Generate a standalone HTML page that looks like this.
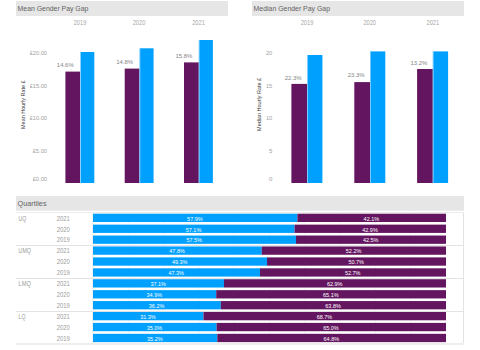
<!DOCTYPE html>
<html><head><meta charset="utf-8"><style>
html,body{margin:0;padding:0;background:#fff;width:480px;height:350px;overflow:hidden}
svg{display:block;font-family:"Liberation Sans", sans-serif}
</style></head><body>
<svg width="480" height="350" viewBox="0 0 480 350">
<rect x="16.00" y="1.00" width="212.00" height="15.00" fill="#E6E6E6"/>
<rect x="252.00" y="1.00" width="212.00" height="15.00" fill="#E6E6E6"/>
<rect x="16.00" y="196.00" width="448.00" height="14.70" fill="#E6E6E6"/>
<text x="17.60" y="11.00" font-size="7.5" fill="#636363" text-anchor="start" textLength="70.80" lengthAdjust="spacingAndGlyphs">Mean Gender Pay Gap</text>
<text x="253.60" y="11.00" font-size="7.5" fill="#636363" text-anchor="start" textLength="76.40" lengthAdjust="spacingAndGlyphs">Median Gender Pay Gap</text>
<text x="17.60" y="206.30" font-size="7.5" fill="#636363" text-anchor="start" textLength="28.90" lengthAdjust="spacingAndGlyphs">Quartiles</text>
<text x="80.00" y="24.80" font-size="6.7" fill="#A6A6A6" text-anchor="middle" textLength="12.60" lengthAdjust="spacingAndGlyphs">2019</text>
<text x="139.00" y="24.80" font-size="6.7" fill="#A6A6A6" text-anchor="middle" textLength="12.60" lengthAdjust="spacingAndGlyphs">2020</text>
<text x="198.50" y="24.80" font-size="6.7" fill="#A6A6A6" text-anchor="middle" textLength="12.60" lengthAdjust="spacingAndGlyphs">2021</text>
<text x="47.00" y="54.90" font-size="5.6" fill="#A2A2A2" text-anchor="end" textLength="17.30" lengthAdjust="spacingAndGlyphs">£20.00</text>
<text x="47.00" y="87.90" font-size="5.6" fill="#A2A2A2" text-anchor="end" textLength="17.30" lengthAdjust="spacingAndGlyphs">£15.00</text>
<text x="47.00" y="120.00" font-size="5.6" fill="#A2A2A2" text-anchor="end" textLength="17.30" lengthAdjust="spacingAndGlyphs">£10.00</text>
<text x="47.00" y="152.70" font-size="5.6" fill="#A2A2A2" text-anchor="end" textLength="14.30" lengthAdjust="spacingAndGlyphs">£5.00</text>
<text x="47.00" y="180.60" font-size="5.6" fill="#A2A2A2" text-anchor="end" textLength="14.30" lengthAdjust="spacingAndGlyphs">£0.00</text>
<text x="24.90" y="104.70" font-size="5.5" fill="#3A3A3A" text-anchor="middle" textLength="48.40" lengthAdjust="spacingAndGlyphs" transform="rotate(-90 24.9 104.7)">Mean Hourly Rate £</text>
<rect x="65.40" y="71.60" width="14.80" height="111.40" fill="#641560"/>
<rect x="80.20" y="52.00" width="14.10" height="131.00" fill="#00A0FF"/>
<rect x="80.20" y="52.00" width="0.80" height="131.00" fill="#ffffff" fill-opacity="0.55"/>
<text x="65.30" y="67.00" font-size="6.25" fill="#858585" text-anchor="middle" textLength="16.90" lengthAdjust="spacingAndGlyphs">14.6%</text>
<rect x="124.70" y="68.60" width="14.80" height="114.40" fill="#641560"/>
<rect x="139.50" y="48.30" width="14.10" height="134.70" fill="#00A0FF"/>
<rect x="139.50" y="48.30" width="0.80" height="134.70" fill="#ffffff" fill-opacity="0.55"/>
<text x="124.60" y="64.30" font-size="6.25" fill="#858585" text-anchor="middle" textLength="16.90" lengthAdjust="spacingAndGlyphs">14.8%</text>
<rect x="184.00" y="62.40" width="14.80" height="120.60" fill="#641560"/>
<rect x="198.80" y="40.00" width="14.10" height="143.00" fill="#00A0FF"/>
<rect x="198.80" y="40.00" width="0.80" height="143.00" fill="#ffffff" fill-opacity="0.55"/>
<text x="183.90" y="58.30" font-size="6.25" fill="#858585" text-anchor="middle" textLength="16.90" lengthAdjust="spacingAndGlyphs">15.8%</text>
<text x="307.00" y="24.80" font-size="6.7" fill="#A6A6A6" text-anchor="middle" textLength="12.60" lengthAdjust="spacingAndGlyphs">2019</text>
<text x="369.70" y="24.80" font-size="6.7" fill="#A6A6A6" text-anchor="middle" textLength="12.60" lengthAdjust="spacingAndGlyphs">2020</text>
<text x="432.80" y="24.80" font-size="6.7" fill="#A6A6A6" text-anchor="middle" textLength="12.60" lengthAdjust="spacingAndGlyphs">2021</text>
<text x="272.30" y="55.20" font-size="5.6" fill="#A2A2A2" text-anchor="end" textLength="6.40" lengthAdjust="spacingAndGlyphs">20</text>
<text x="272.30" y="87.70" font-size="5.6" fill="#A2A2A2" text-anchor="end" textLength="6.40" lengthAdjust="spacingAndGlyphs">15</text>
<text x="272.30" y="120.20" font-size="5.6" fill="#A2A2A2" text-anchor="end" textLength="6.40" lengthAdjust="spacingAndGlyphs">10</text>
<text x="272.30" y="152.60" font-size="5.6" fill="#A2A2A2" text-anchor="end" textLength="3.40" lengthAdjust="spacingAndGlyphs">5</text>
<text x="272.30" y="180.90" font-size="5.6" fill="#A2A2A2" text-anchor="end" textLength="3.40" lengthAdjust="spacingAndGlyphs">0</text>
<text x="261.05" y="104.40" font-size="5.5" fill="#3A3A3A" text-anchor="middle" textLength="53.00" lengthAdjust="spacingAndGlyphs" transform="rotate(-90 261.05 104.4)">Median Hourly Rate £</text>
<rect x="291.40" y="83.90" width="15.70" height="99.10" fill="#641560"/>
<rect x="307.10" y="55.00" width="15.30" height="128.00" fill="#00A0FF"/>
<rect x="307.10" y="55.00" width="0.80" height="128.00" fill="#ffffff" fill-opacity="0.55"/>
<text x="293.20" y="79.70" font-size="6.25" fill="#858585" text-anchor="middle" textLength="16.90" lengthAdjust="spacingAndGlyphs">22.3%</text>
<rect x="354.30" y="82.10" width="15.70" height="100.90" fill="#641560"/>
<rect x="370.00" y="51.40" width="15.30" height="131.60" fill="#00A0FF"/>
<rect x="370.00" y="51.40" width="0.80" height="131.60" fill="#ffffff" fill-opacity="0.55"/>
<text x="356.10" y="76.90" font-size="6.25" fill="#858585" text-anchor="middle" textLength="16.90" lengthAdjust="spacingAndGlyphs">23.3%</text>
<rect x="417.10" y="69.00" width="15.70" height="114.00" fill="#641560"/>
<rect x="432.80" y="51.40" width="15.30" height="131.60" fill="#00A0FF"/>
<rect x="432.80" y="51.40" width="0.80" height="131.60" fill="#ffffff" fill-opacity="0.55"/>
<text x="418.90" y="65.00" font-size="6.25" fill="#858585" text-anchor="middle" textLength="16.90" lengthAdjust="spacingAndGlyphs">13.2%</text>
<line x1="128.3" y1="212.5" x2="128.3" y2="343.5" stroke="#F2F2F2" stroke-width="0.8"/>
<line x1="163.6" y1="212.5" x2="163.6" y2="343.5" stroke="#F2F2F2" stroke-width="0.8"/>
<line x1="198.9" y1="212.5" x2="198.9" y2="343.5" stroke="#F2F2F2" stroke-width="0.8"/>
<line x1="234.2" y1="212.5" x2="234.2" y2="343.5" stroke="#F2F2F2" stroke-width="0.8"/>
<line x1="269.5" y1="212.5" x2="269.5" y2="343.5" stroke="#F2F2F2" stroke-width="0.8"/>
<line x1="304.8" y1="212.5" x2="304.8" y2="343.5" stroke="#F2F2F2" stroke-width="0.8"/>
<line x1="340.1" y1="212.5" x2="340.1" y2="343.5" stroke="#F2F2F2" stroke-width="0.8"/>
<line x1="375.4" y1="212.5" x2="375.4" y2="343.5" stroke="#F2F2F2" stroke-width="0.8"/>
<line x1="410.7" y1="212.5" x2="410.7" y2="343.5" stroke="#F2F2F2" stroke-width="0.8"/>
<line x1="16" y1="212.5" x2="463.5" y2="212.5" stroke="#EBEBEB" stroke-width="1"/>
<text x="18.60" y="220.60" font-size="6.4" fill="#9A9A9A" text-anchor="start" textLength="7.60" lengthAdjust="spacingAndGlyphs">UQ</text>
<text x="56.80" y="220.65" font-size="6.5" fill="#9A9A9A" text-anchor="start" textLength="13.00" lengthAdjust="spacingAndGlyphs">2021</text>
<rect x="93.00" y="213.70" width="204.39" height="8.30" fill="#00A0FF"/>
<rect x="297.39" y="213.70" width="148.61" height="8.30" fill="#641560"/>
<text x="194.89" y="220.65" font-size="5.9" fill="#FFFFFF" text-anchor="middle" textLength="15.60" lengthAdjust="spacingAndGlyphs">57.9%</text>
<text x="371.39" y="220.65" font-size="5.9" fill="#FFFFFF" text-anchor="middle" textLength="15.60" lengthAdjust="spacingAndGlyphs">42.1%</text>
<text x="56.80" y="231.57" font-size="6.5" fill="#9A9A9A" text-anchor="start" textLength="13.00" lengthAdjust="spacingAndGlyphs">2020</text>
<rect x="93.00" y="224.62" width="201.56" height="8.30" fill="#00A0FF"/>
<rect x="294.56" y="224.62" width="151.44" height="8.30" fill="#641560"/>
<text x="193.48" y="231.57" font-size="5.9" fill="#FFFFFF" text-anchor="middle" textLength="15.60" lengthAdjust="spacingAndGlyphs">57.1%</text>
<text x="369.98" y="231.57" font-size="5.9" fill="#FFFFFF" text-anchor="middle" textLength="15.60" lengthAdjust="spacingAndGlyphs">42.9%</text>
<text x="56.80" y="242.49" font-size="6.5" fill="#9A9A9A" text-anchor="start" textLength="13.00" lengthAdjust="spacingAndGlyphs">2019</text>
<rect x="93.00" y="235.54" width="202.98" height="8.30" fill="#00A0FF"/>
<rect x="295.98" y="235.54" width="150.02" height="8.30" fill="#641560"/>
<text x="194.19" y="242.49" font-size="5.9" fill="#FFFFFF" text-anchor="middle" textLength="15.60" lengthAdjust="spacingAndGlyphs">57.5%</text>
<text x="370.69" y="242.49" font-size="5.9" fill="#FFFFFF" text-anchor="middle" textLength="15.60" lengthAdjust="spacingAndGlyphs">42.5%</text>
<line x1="15.7" y1="245.5" x2="463.5" y2="245.5" stroke="#E3E3E3" stroke-width="1"/>
<text x="18.60" y="253.36" font-size="6.4" fill="#9A9A9A" text-anchor="start" textLength="12.30" lengthAdjust="spacingAndGlyphs">UMQ</text>
<text x="56.80" y="253.41" font-size="6.5" fill="#9A9A9A" text-anchor="start" textLength="13.00" lengthAdjust="spacingAndGlyphs">2021</text>
<rect x="93.00" y="246.46" width="168.73" height="8.30" fill="#00A0FF"/>
<rect x="261.73" y="246.46" width="184.27" height="8.30" fill="#641560"/>
<text x="177.07" y="253.41" font-size="5.9" fill="#FFFFFF" text-anchor="middle" textLength="15.60" lengthAdjust="spacingAndGlyphs">47.8%</text>
<text x="353.57" y="253.41" font-size="5.9" fill="#FFFFFF" text-anchor="middle" textLength="15.60" lengthAdjust="spacingAndGlyphs">52.2%</text>
<text x="56.80" y="264.33" font-size="6.5" fill="#9A9A9A" text-anchor="start" textLength="13.00" lengthAdjust="spacingAndGlyphs">2020</text>
<rect x="93.00" y="257.38" width="174.03" height="8.30" fill="#00A0FF"/>
<rect x="267.03" y="257.38" width="178.97" height="8.30" fill="#641560"/>
<text x="179.71" y="264.33" font-size="5.9" fill="#FFFFFF" text-anchor="middle" textLength="15.60" lengthAdjust="spacingAndGlyphs">49.3%</text>
<text x="356.21" y="264.33" font-size="5.9" fill="#FFFFFF" text-anchor="middle" textLength="15.60" lengthAdjust="spacingAndGlyphs">50.7%</text>
<text x="56.80" y="275.25" font-size="6.5" fill="#9A9A9A" text-anchor="start" textLength="13.00" lengthAdjust="spacingAndGlyphs">2019</text>
<rect x="93.00" y="268.30" width="166.97" height="8.30" fill="#00A0FF"/>
<rect x="259.97" y="268.30" width="186.03" height="8.30" fill="#641560"/>
<text x="176.18" y="275.25" font-size="5.9" fill="#FFFFFF" text-anchor="middle" textLength="15.60" lengthAdjust="spacingAndGlyphs">47.3%</text>
<text x="352.68" y="275.25" font-size="5.9" fill="#FFFFFF" text-anchor="middle" textLength="15.60" lengthAdjust="spacingAndGlyphs">52.7%</text>
<line x1="15.7" y1="278.5" x2="463.5" y2="278.5" stroke="#E3E3E3" stroke-width="1"/>
<text x="18.60" y="286.12" font-size="6.4" fill="#9A9A9A" text-anchor="start" textLength="12.30" lengthAdjust="spacingAndGlyphs">LMQ</text>
<text x="56.80" y="286.17" font-size="6.5" fill="#9A9A9A" text-anchor="start" textLength="13.00" lengthAdjust="spacingAndGlyphs">2021</text>
<rect x="93.00" y="279.22" width="130.96" height="8.30" fill="#00A0FF"/>
<rect x="223.96" y="279.22" width="222.04" height="8.30" fill="#641560"/>
<text x="158.18" y="286.17" font-size="5.9" fill="#FFFFFF" text-anchor="middle" textLength="15.60" lengthAdjust="spacingAndGlyphs">37.1%</text>
<text x="334.68" y="286.17" font-size="5.9" fill="#FFFFFF" text-anchor="middle" textLength="15.60" lengthAdjust="spacingAndGlyphs">62.9%</text>
<text x="56.80" y="297.09" font-size="6.5" fill="#9A9A9A" text-anchor="start" textLength="13.00" lengthAdjust="spacingAndGlyphs">2020</text>
<rect x="93.00" y="290.14" width="123.20" height="8.30" fill="#00A0FF"/>
<rect x="216.20" y="290.14" width="229.80" height="8.30" fill="#641560"/>
<text x="154.30" y="297.09" font-size="5.9" fill="#FFFFFF" text-anchor="middle" textLength="15.60" lengthAdjust="spacingAndGlyphs">34.9%</text>
<text x="330.80" y="297.09" font-size="5.9" fill="#FFFFFF" text-anchor="middle" textLength="15.60" lengthAdjust="spacingAndGlyphs">65.1%</text>
<text x="56.80" y="308.01" font-size="6.5" fill="#9A9A9A" text-anchor="start" textLength="13.00" lengthAdjust="spacingAndGlyphs">2019</text>
<rect x="93.00" y="301.06" width="127.79" height="8.30" fill="#00A0FF"/>
<rect x="220.79" y="301.06" width="225.21" height="8.30" fill="#641560"/>
<text x="156.59" y="308.01" font-size="5.9" fill="#FFFFFF" text-anchor="middle" textLength="15.60" lengthAdjust="spacingAndGlyphs">36.2%</text>
<text x="333.09" y="308.01" font-size="5.9" fill="#FFFFFF" text-anchor="middle" textLength="15.60" lengthAdjust="spacingAndGlyphs">63.8%</text>
<line x1="15.7" y1="311.5" x2="463.5" y2="311.5" stroke="#E3E3E3" stroke-width="1"/>
<text x="18.60" y="318.88" font-size="6.4" fill="#9A9A9A" text-anchor="start" textLength="7.00" lengthAdjust="spacingAndGlyphs">LQ</text>
<text x="56.80" y="318.93" font-size="6.5" fill="#9A9A9A" text-anchor="start" textLength="13.00" lengthAdjust="spacingAndGlyphs">2021</text>
<rect x="93.00" y="311.98" width="110.49" height="8.30" fill="#00A0FF"/>
<rect x="203.49" y="311.98" width="242.51" height="8.30" fill="#641560"/>
<text x="147.94" y="318.93" font-size="5.9" fill="#FFFFFF" text-anchor="middle" textLength="15.60" lengthAdjust="spacingAndGlyphs">31.3%</text>
<text x="324.44" y="318.93" font-size="5.9" fill="#FFFFFF" text-anchor="middle" textLength="15.60" lengthAdjust="spacingAndGlyphs">68.7%</text>
<text x="56.80" y="329.85" font-size="6.5" fill="#9A9A9A" text-anchor="start" textLength="13.00" lengthAdjust="spacingAndGlyphs">2020</text>
<rect x="93.00" y="322.90" width="123.55" height="8.30" fill="#00A0FF"/>
<rect x="216.55" y="322.90" width="229.45" height="8.30" fill="#641560"/>
<text x="154.47" y="329.85" font-size="5.9" fill="#FFFFFF" text-anchor="middle" textLength="15.60" lengthAdjust="spacingAndGlyphs">35.0%</text>
<text x="330.97" y="329.85" font-size="5.9" fill="#FFFFFF" text-anchor="middle" textLength="15.60" lengthAdjust="spacingAndGlyphs">65.0%</text>
<text x="56.80" y="340.77" font-size="6.5" fill="#9A9A9A" text-anchor="start" textLength="13.00" lengthAdjust="spacingAndGlyphs">2019</text>
<rect x="93.00" y="333.82" width="124.26" height="8.30" fill="#00A0FF"/>
<rect x="217.26" y="333.82" width="228.74" height="8.30" fill="#641560"/>
<text x="154.83" y="340.77" font-size="5.9" fill="#FFFFFF" text-anchor="middle" textLength="15.60" lengthAdjust="spacingAndGlyphs">35.2%</text>
<text x="331.33" y="340.77" font-size="5.9" fill="#FFFFFF" text-anchor="middle" textLength="15.60" lengthAdjust="spacingAndGlyphs">64.8%</text>
<line x1="92.5" y1="212.5" x2="92.5" y2="343" stroke="#F0F0F0" stroke-width="1"/>
<line x1="463.5" y1="212.5" x2="463.5" y2="343" stroke="#E3E3E3" stroke-width="1"/>
<line x1="15.7" y1="344" x2="463.5" y2="344" stroke="#EEEEEE" stroke-width="2"/>
</svg>
</body></html>
